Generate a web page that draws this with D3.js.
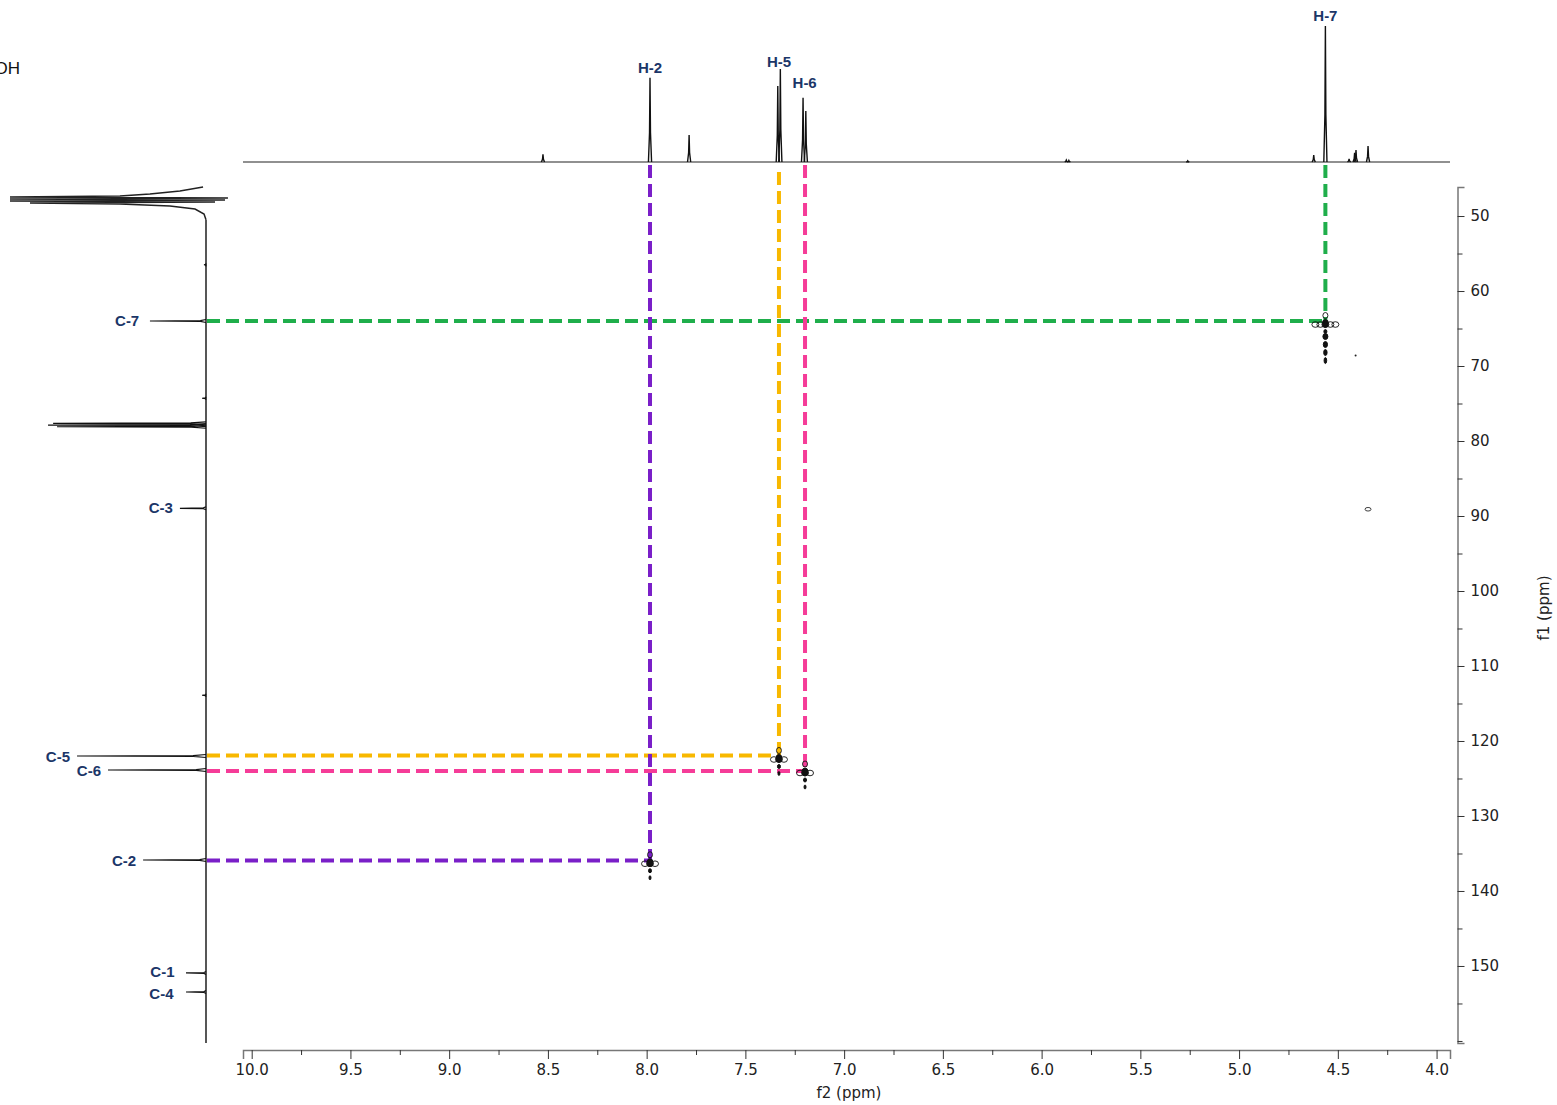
<!DOCTYPE html>
<html><head><meta charset="utf-8">
<script src="https://cdn.jsdelivr.net/npm/d3@7"></script>
<style>body{margin:0;background:#fff}svg{display:block}</style>
</head><body><svg id="c" width="1557" height="1105"></svg>
<script>
// ---------- axis ticks ----------
const f2MajorTicks = [10.0, 9.5, 9.0, 8.5, 8.0, 7.5, 7.0, 6.5, 6.0, 5.5, 5.0, 4.5, 4.0];
const f2MinorTicks = [9.75, 9.25, 8.75, 8.25, 7.75, 7.25, 6.75, 6.25, 5.75, 5.25, 4.75, 4.25];
const f1MajorTicks = [50, 60, 70, 80, 90, 100, 110, 120, 130, 140, 150];
const f1MinorTicks = [55, 65, 75, 85, 95, 105, 115, 125, 135, 145, 155, 160];

// ---------- 1H projection (ppm, relative intensity) ----------
const hPeakPpm = [8.525, 7.983, 7.785, 7.336, 7.323, 7.208, 7.194, 5.875, 5.862, 5.26, 4.622, 4.563, 4.443, 4.415, 4.408, 4.347];
const hPeakInt = [5.7, 62.0, 19.9, 55.9, 68.4, 47.3, 37.5, 1.4, 1.2, 0.9, 5.1, 100, 2.2, 6.8, 8.8, 11.8];
const hLabels = ["H-2", "H-5", "H-6", "H-7"];
const hLabelPpm = [7.983, 7.330, 7.200, 4.563];
const hLabelInt = [61.8, 66.2, 50.7, 100];

// ---------- 13C projection (ppm, relative intensity) ----------
const cPeakPpm = [56.5, 64.0, 74.3, 77.65, 77.87, 78.1, 88.97, 113.9, 122.0, 123.87, 135.87, 150.93, 153.47];
const cPeakInt = [1.0, 28.6, 2.0, 78, 80.6, 76, 13.3, 2.0, 65.8, 50, 32.1, 10.2, 10.2];
const cLabels = ["C-7", "C-3", "C-5", "C-6", "C-2", "C-1", "C-4"];
const cLabelPpm = [64.0, 88.97, 122.15, 124.0, 135.95, 150.8, 153.8];
const cLabelInt = [30.5, 13.3, 65.8, 50, 32.1, 12.5, 13.0];
// clipped solvent signal at the top of the 13C trace
const solventPpm = [46.13, 46.67, 47.07, 47.33, 47.47, 47.60, 47.73, 47.87, 48.00, 48.13, 48.27, 48.40, 48.67, 49.07, 49.73, 50.50];
const solventInt = [1.5, 13.3, 28.6, 43.9, 100, -11.2, 100, -9.7, 100, -4.6, 89.8, 43.9, 18.4, 5.6, 1.0, 0];

// ---------- HSQC correlations ----------
const corrNames = ["H-7/C-7", "H-2/C-2", "H-5/C-5", "H-6/C-6"];
const corrH = [4.563, 7.983, 7.330, 7.198];
const corrC = [64.0, 135.95, 121.95, 124.0];

// ---------- 2D cross peaks ----------
const crossH = [4.563, 7.330, 7.198, 7.983, 4.347, 4.410];
const crossC = [64.2, 122.2, 124.0, 136.1, 89.1, 68.6];
const crossInt = [1.0, 0.55, 0.55, 0.6, 0.15, 0.05];

// ================== drawing ==================
const svg = d3.select("#c");
const x = d3.scaleLinear().domain([10.044, 3.932]).range([243, 1450]);
const y = d3.scaleLinear().domain([46.13, 160.27]).range([187, 1043]);
const topY = d3.scaleLinear().domain([0, 100]).range([162, 26]);
const leftX = d3.scaleLinear().domain([0, 100]).range([206, 10]);

const navy = "#1b3668";
const corrColors = ["#1fae4b", "#7a1fc8", "#f8b800", "#f53c98"];

// structure fragment label (cut off at the left edge, as in the original figure)
svg.append("text").attr("x", -5.5).attr("y", 74).attr("font-family", "Liberation Sans, Arial, sans-serif")
  .attr("font-size", 17).attr("fill", "#111").text("OH");

// ---- top 1H trace ----
const gTop = svg.append("g");
gTop.append("line").attr("x1", x(10.044)).attr("x2", x(3.932)).attr("y1", topY(0)).attr("y2", topY(0))
  .attr("stroke", "#222").attr("stroke-width", 1.1);
const hw = 0.008;
hPeakPpm.forEach((p, i) => {
  const pts = [[p + hw, 0], [p + hw * 0.3, hPeakInt[i] * 0.35], [p, hPeakInt[i]], [p - hw * 0.3, hPeakInt[i] * 0.35], [p - hw, 0]];
  gTop.append("path").attr("d", d3.line().x(d => x(d[0])).y(d => topY(d[1]))(pts))
    .attr("fill", "none").attr("stroke", "#111").attr("stroke-width", 1.4);
});
hLabels.forEach((t, i) => {
  svg.append("text").attr("x", x(hLabelPpm[i])).attr("y", topY(hLabelInt[i]) - 5)
    .attr("text-anchor", "middle").attr("font-family", "Liberation Sans, Arial, sans-serif")
    .attr("font-weight", "bold").attr("font-size", 15).attr("fill", navy).text(t);
});

// ---- left 13C trace ----
const gLeft = svg.append("g");
const solvent = solventPpm.map((p, i) => [p, solventInt[i]]);
gLeft.append("path").attr("d", d3.line().x(d => leftX(d[1])).y(d => y(d[0]))(solvent))
  .attr("fill", "none").attr("stroke", "#222").attr("stroke-width", 1.5);
gLeft.append("line").attr("x1", leftX(0)).attr("x2", leftX(0)).attr("y1", y(50.5)).attr("y2", y(160.27))
  .attr("stroke", "#444").attr("stroke-width", 1.8);
const cw = 0.2;
cPeakPpm.forEach((p, i) => {
  const pts = [[p - cw, 0], [p - cw * 0.3, cPeakInt[i] * 0.1], [p, cPeakInt[i]], [p + cw * 0.3, cPeakInt[i] * 0.1], [p + cw, 0]];
  gLeft.append("path").attr("d", d3.line().x(d => leftX(d[1])).y(d => y(d[0]))(pts))
    .attr("fill", "none").attr("stroke", "#111").attr("stroke-width", 1.2);
});
cLabels.forEach((t, i) => {
  svg.append("text").attr("x", leftX(cLabelInt[i]) - 7).attr("y", y(cLabelPpm[i]) + 5)
    .attr("text-anchor", "end").attr("font-family", "Liberation Sans, Arial, sans-serif")
    .attr("font-weight", "bold").attr("font-size", 15).attr("fill", navy).text(t);
});

// ---- correlation dashed guides ----
const gCorr = svg.append("g");
corrH.forEach((h, i) => {
  gCorr.append("line").attr("x1", leftX(0) + 1).attr("x2", x(h)).attr("y1", y(corrC[i])).attr("y2", y(corrC[i]))
    .attr("stroke", corrColors[i]).attr("stroke-width", 4).attr("stroke-dasharray", "13,6");
});
corrH.forEach((h, i) => {
  gCorr.append("line").attr("x1", x(h)).attr("x2", x(h)).attr("y1", topY(0) + 3 + (i === 2 ? 7 : 0)).attr("y2", y(corrC[i]))
    .attr("stroke", corrColors[i]).attr("stroke-width", 4).attr("stroke-dasharray", "13,6");
});

// ---- cross peaks ----
const gX = svg.append("g").attr("stroke", "#111").attr("fill", "none");
crossH.forEach((h, i) => {
  const cx = x(h), cy = y(crossC[i]), k = crossInt[i];
  if (k < 0.1) { gX.append("circle").attr("cx", cx).attr("cy", cy).attr("r", 1).attr("fill", "#222").attr("stroke", "none"); return; }
  if (k < 0.3) { gX.append("ellipse").attr("cx", cx).attr("cy", cy).attr("rx", 3).attr("ry", 1.8).attr("stroke-width", 0.8); return; }
  const n = k > 0.9 ? 5 : 3;
  for (let j = 0; j < n; j++) {
    const dx = (j - (n - 1) / 2) * 5;
    gX.append("ellipse").attr("cx", cx + dx).attr("cy", cy + 2).attr("rx", 3.5).attr("ry", 2.8).attr("stroke-width", 0.9);
  }
  gX.append("ellipse").attr("cx", cx).attr("cy", cy + 1).attr("rx", 3).attr("ry", 4).attr("fill", "#111");
  gX.append("ellipse").attr("cx", cx).attr("cy", cy - 7).attr("rx", 2.5).attr("ry", 3).attr("stroke-width", 0.9);
  gX.append("ellipse").attr("cx", cx).attr("cy", cy + 9).attr("rx", 1.5).attr("ry", 2).attr("fill", "#111");
  if (k > 0.9) {
    [14, 22, 30, 38].forEach((d, m) => gX.append("ellipse").attr("cx", cx).attr("cy", cy + d).attr("rx", 2.5 - m * 0.4).attr("ry", 3).attr("fill", "#111"));
  } else {
    gX.append("ellipse").attr("cx", cx).attr("cy", cy + 16).attr("rx", 1).attr("ry", 2).attr("fill", "#111");
  }
});

// ---- axes ----
const axisFont = "DejaVu Sans, Verdana, sans-serif";
const gx = svg.append("g").attr("transform", "translate(0,1050)");
gx.call(d3.axisBottom(x).tickValues(f2MajorTicks).tickSize(9).tickPadding(5).tickFormat(d3.format(".1f")));
gx.append("g").call(d3.axisBottom(x).tickValues(f2MinorTicks).tickSize(5).tickFormat("")).select(".domain").remove();
gx.selectAll(".domain").attr("stroke", "#777").attr("stroke-width", 1.5);
gx.selectAll(".tick line").attr("stroke", "#333");
gx.selectAll("text").attr("font-family", axisFont).attr("font-size", 15).attr("fill", "#222");

const gy = svg.append("g").attr("transform", "translate(1457.5,0)");
gy.call(d3.axisRight(y).tickValues(f1MajorTicks).tickSize(7).tickPadding(6));
gy.append("g").call(d3.axisRight(y).tickValues(f1MinorTicks).tickSize(5).tickFormat("")).select(".domain").remove();
gy.selectAll(".domain").attr("stroke", "#777").attr("stroke-width", 1.5);
gy.selectAll(".tick line").attr("stroke", "#333");
gy.selectAll("text").attr("font-family", axisFont).attr("font-size", 15).attr("fill", "#222");

svg.append("text").attr("x", 849).attr("y", 1098).attr("text-anchor", "middle")
  .attr("font-family", axisFont).attr("font-size", 15).attr("fill", "#222").text("f2 (ppm)");
svg.append("text").attr("transform", "translate(1549,608) rotate(-90)").attr("text-anchor", "middle")
  .attr("font-family", axisFont).attr("font-size", 15).attr("fill", "#222").text("f1 (ppm)");
</script></body></html>
